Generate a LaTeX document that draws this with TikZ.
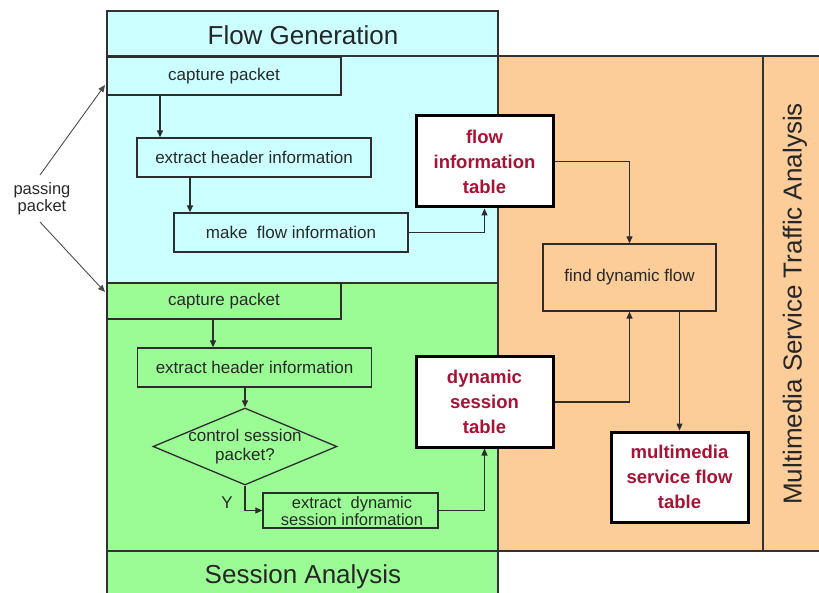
\documentclass[tikz,border=0pt]{standalone}
\usepackage{fontspec}
\setmainfont{Liberation Sans}
\usetikzlibrary{arrows.meta,shapes.geometric}
\definecolor{cyanbg}{RGB}{204,255,255}
\definecolor{greenbg}{RGB}{155,252,150}
\definecolor{orangebg}{RGB}{252,204,153}
\definecolor{tablered}{RGB}{168,18,52}
\definecolor{frameline}{RGB}{50,50,50}
\definecolor{boxline}{RGB}{45,45,45}
\definecolor{inktext}{RGB}{40,40,40}
\begin{document}
\begin{tikzpicture}[x=1pt,y=-1pt,
  frame/.style={draw=frameline,line width=2.6pt},
  procbox/.style={draw=boxline,line width=1.3pt,inner sep=0pt,align=center,
    font=\fontsize{17}{17}\selectfont,text=inktext},
  tablebox/.style={draw=black,line width=3pt,fill=white,inner sep=0pt,align=center,
    minimum width=137,minimum height=90,
    font=\fontsize{18.5}{25}\selectfont\bfseries,text=tablered},
  flow/.style={draw=boxline,line width=1.2pt,-{Triangle[length=7pt,width=6pt]}},
  title/.style={font=\fontsize{26}{30}\selectfont,text=black!85},
  smalltext/.style={font=\fontsize{17}{17}\selectfont,text=inktext,align=center,inner sep=0pt}]
\useasboundingbox (0,0) rectangle (819,593);
\clip (0,0) rectangle (819,593);

% panel backgrounds
\fill[cyanbg]   (107,11)  rectangle (498,283);
\fill[greenbg]  (107,283) rectangle (498,600);
\fill[orangebg] (498,56)  rectangle (830,551);

% panel borders
\draw[frame] (107,600) -- (107,11) -- (498,11) -- (498,600);
\draw[frame] (107,56) -- (830,56);
\draw[frame] (107,283) -- (498,283);
\draw[frame] (107,551) -- (830,551);
\draw[frame] (763,56) -- (763,551);

% panel titles
\node[title] (fgtitle) at (303,35) {Flow Generation};
\node[title] (satitle) at (303,577) {Session Analysis};
\node[title,rotate=90] (mtitle) at (795,304) {Multimedia Service Traffic Analysis};

% flow generation steps
\node[procbox,minimum width=234,minimum height=38] (cap1) at (224,76) {capture packet};
\node[procbox,minimum width=234,minimum height=39] (ext1) at (254,157.5) {extract header information};
\node[procbox,minimum width=234,minimum height=39] (make) at (291,232.5) {make\ \ flow information};

% session analysis steps
\node[procbox,minimum width=234,minimum height=36] (cap2) at (224,301) {capture packet};
\node[procbox,minimum width=234,minimum height=39] (ext2) at (254.5,367.5) {extract header information};
\node[draw=boxline,line width=1.3pt,shape=diamond,inner sep=0pt,
      minimum width=184,minimum height=77] (dia) at (245,446.5) {};
\node[smalltext,font=\fontsize{17}{19}\selectfont] (diatext) at (245,447) {control session\\packet?};
\node[procbox,minimum width=175,minimum height=35] (edyn) at (350.5,510.5) {};
\node[smalltext,font=\fontsize{16.5}{17}\selectfont] (edyntext) at (352,511) {extract\ \ dynamic\\session information};
\node[smalltext] (ylabel) at (227,503) {Y};

% traffic analysis step
\node[procbox,fill=orangebg,minimum width=173,minimum height=67] (find) at (629.5,277.5) {find dynamic flow};

% tables
\node[tablebox,minimum height=91] (fit) at (484.5,161.5) {flow\\information\\table};
\node[tablebox] (dst) at (484.5,402) {dynamic\\session\\table};
\node[tablebox] (mm) at (679.5,477) {multimedia\\service flow\\table};

% incoming packets
\node[smalltext,font=\fontsize{16.5}{17}\selectfont] (pp) at (42,199) {passing\\packet};
\coordinate (ppup) at (40,175);
\coordinate (ppdown) at (40,222);
\coordinate (inflow) at (105,85);
\coordinate (insess) at (105,292);
\draw[flow,line width=0.9pt,draw=black!70] (ppup) -- (inflow);
\draw[flow,line width=0.9pt,draw=black!70] (ppdown) -- (insess);

% connectors
\draw[flow] (160,0 |- cap1.south) -- (160,0 |- ext1.north);
\draw[flow] (190,0 |- ext1.south) -- (190,0 |- make.north);
\draw[flow] (make.east) -| (fit.south);
\draw[flow] (fit.east) -| (find.north);
\draw[flow] (dst.east) -| (find.south);
\draw[flow] (mm.north |- find.south) -- (mm.north);
\draw[flow] (213,0 |- cap2.south) -- (213,0 |- ext2.north);
\draw[flow] (dia.north |- ext2.south) -- (dia.north);
\draw[flow] (dia.south) |- (edyn.west);
\draw[flow] (edyn.east) -| (dst.south);
\end{tikzpicture}
\end{document}
